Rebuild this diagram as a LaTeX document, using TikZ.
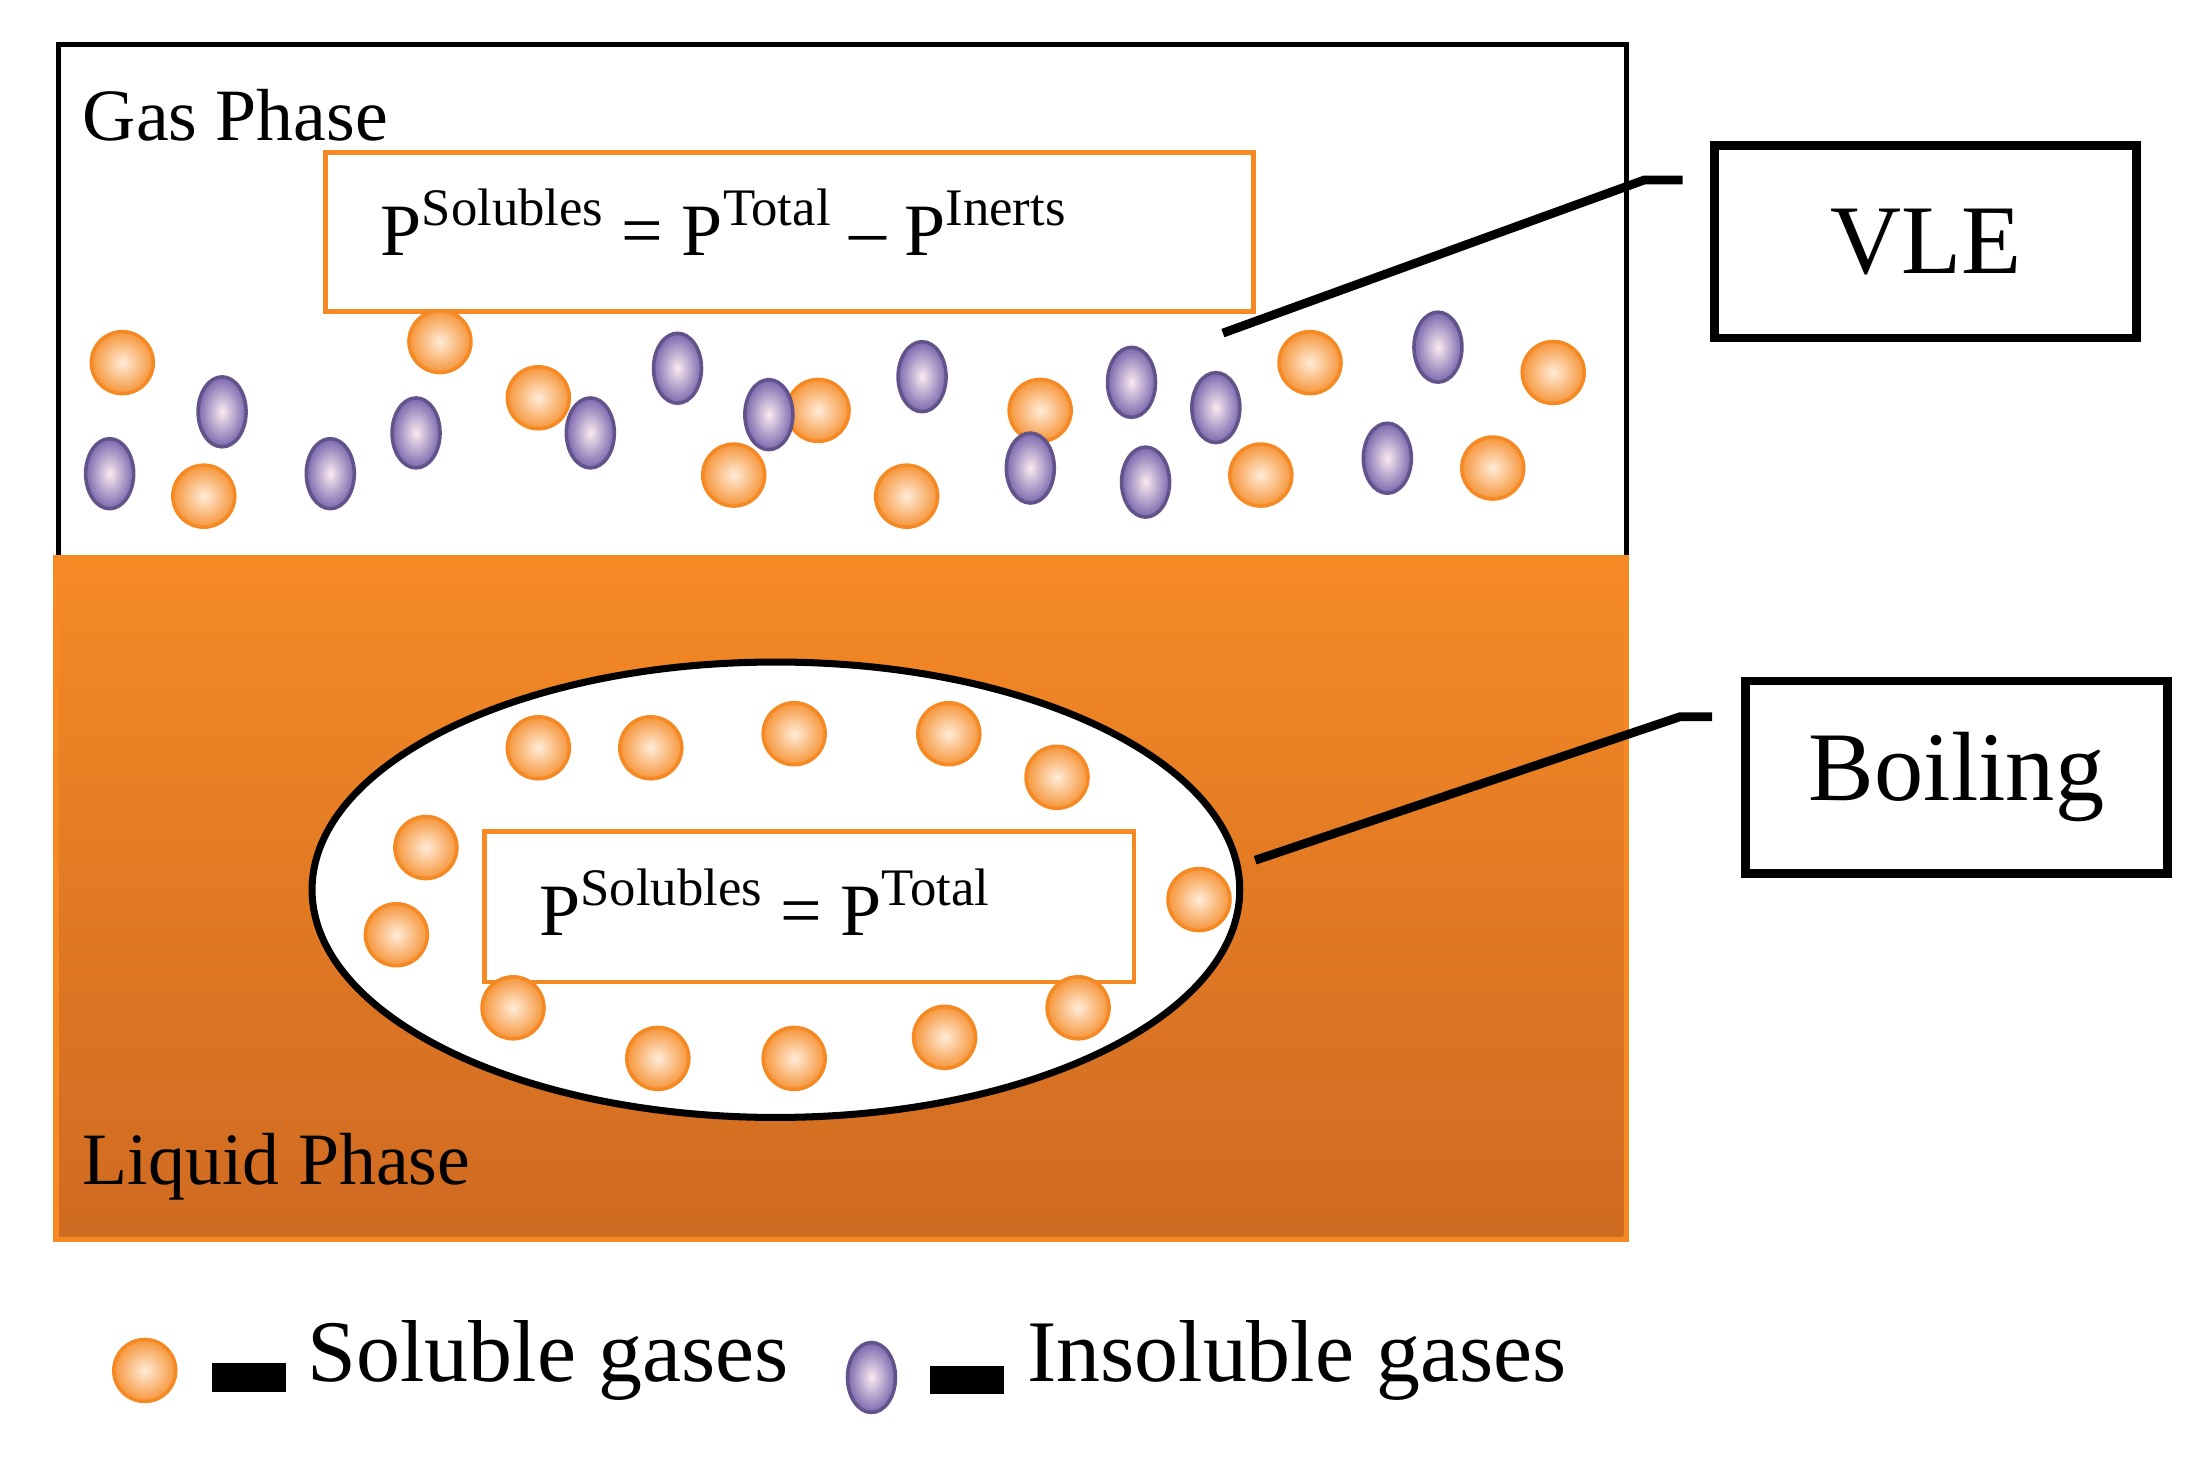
\documentclass[tikz,border=0pt]{standalone}
\usepackage{fontspec}
\setmainfont{Liberation Serif}
\usetikzlibrary{shapes.geometric}
\definecolor{orng}{HTML}{F58A25}
\definecolor{orngdk}{HTML}{CF6A22}
\definecolor{purp}{HTML}{7B68AE}
\newcommand{\supx}[1]{\raisebox{0.9ex}{\fontsize{15}{16}\selectfont #1}}
\begin{document}
\begin{tikzpicture}[x=0.01406cm,y=-0.01406cm,
  sol/.style={circle,minimum width=0.62cm,minimum height=0.56cm,inner sep=0pt,draw=orng,line width=1pt,inner color=orange!15,outer color=orng!90},
  ins/.style={ellipse,minimum width=0.48cm,minimum height=0.7cm,inner sep=0pt,draw=purp!80!black,line width=1pt,inner color=purple!8!white,outer color=purp},
  eqbox/.style={draw=orng,line width=1.3pt,fill=white,inner sep=0pt},
  lbl/.style={draw=black,line width=2.5pt,fill=white,font=\fontsize{28}{30}\selectfont},
  txt/.style={font=\fontsize{21}{24}\selectfont}]
\useasboundingbox (0,0) rectangle (1568,1044);
% gas phase
\node[draw=black,line width=1.5pt,minimum width=1115*0.01406cm,minimum height=365*0.01406cm,anchor=north west,inner sep=0pt] (gas) at (40,30) {};
% liquid phase
\shade[top color=orng,bottom color=orngdk] (38,395) rectangle (1155,880);
\node[draw=orng,line width=1.5pt,minimum width=1117*0.01406cm,minimum height=485*0.01406cm,anchor=north west,inner sep=0pt] (liq) at (38,395) {};
\node[txt,anchor=west] (gl) at (50,82) {Gas Phase};
\node[txt,anchor=west] (ll) at (50,830) {Liquid Phase};
% equation 1
\node[eqbox,minimum width=660*0.01406cm,minimum height=113*0.01406cm,anchor=north west] (eq1) at (230,107) {};
\node[txt,anchor=west] (eq1t) at (262,158) {P\supx{Solubles} = P\supx{Total} -- P\supx{Inerts}};
% ellipse
\node[ellipse,draw=black,line width=2pt,fill=white,minimum width=660*0.01406cm,minimum height=324*0.01406cm] (ell) at (552,633) {};
\node[eqbox,minimum width=462*0.01406cm,minimum height=107*0.01406cm,anchor=north west] (eq2) at (343,590) {};
\node[txt,anchor=west] (eq2t) at (375,642) {P\supx{Solubles} = P\supx{Total}};
% labels
\node[lbl,minimum width=300*0.01406cm,minimum height=137*0.01406cm] (vle) at (1370,172) {VLE};
\node[lbl,minimum width=300*0.01406cm,minimum height=137*0.01406cm] (boil) at (1392,553) {Boiling};
\coordinate (v1) at (870,237); \coordinate (v2) at (1170,128); \coordinate (v3) at (1197,128);
\draw[line width=2.5pt] (v1) -- (v2) -- (v3);
\coordinate (b1) at (893,612); \coordinate (b2) at (1195,510); \coordinate (b3) at (1218,510);
\draw[line width=2.5pt] (b1) -- (b2) -- (b3);
% particles
\foreach \x/\y [count=\i] in {87/258,313/243,383/283,145/353,522/338,582/292,645/353,740/292,897/338,932/258,1062/333,1105/265,
  383/532,463/532,565/522,675/522,752/553,303/603,282/665,365/717,468/753,565/753,672/738,767/717,853/640}
  \node[sol] (s\i) at (\x,\y) {};
\foreach \x/\y [count=\i] in {158/293,78/337,235/337,296/308,420/308,482/262,547/295,656/268,733/333,805/272,815/343,865/290,987/326,1023/247}
  \node[ins] (i\i) at (\x,\y) {};
% legend
\node[sol] (ls) at (103,975) {};
\node[fill=black,minimum width=53*0.01406cm,minimum height=20*0.01406cm,inner sep=0pt] (lb1) at (177,980) {};
\node[txt,anchor=west,font=\fontsize{25}{28}\selectfont] (lt1) at (210,968) {Soluble gases};
\node[ins] (li) at (620,980) {};
\node[fill=black,minimum width=53*0.01406cm,minimum height=20*0.01406cm,inner sep=0pt] (lb2) at (688,982) {};
\node[txt,anchor=west,font=\fontsize{25}{28}\selectfont] (lt2) at (722,968) {Insoluble gases};
\end{tikzpicture}
\end{document}
